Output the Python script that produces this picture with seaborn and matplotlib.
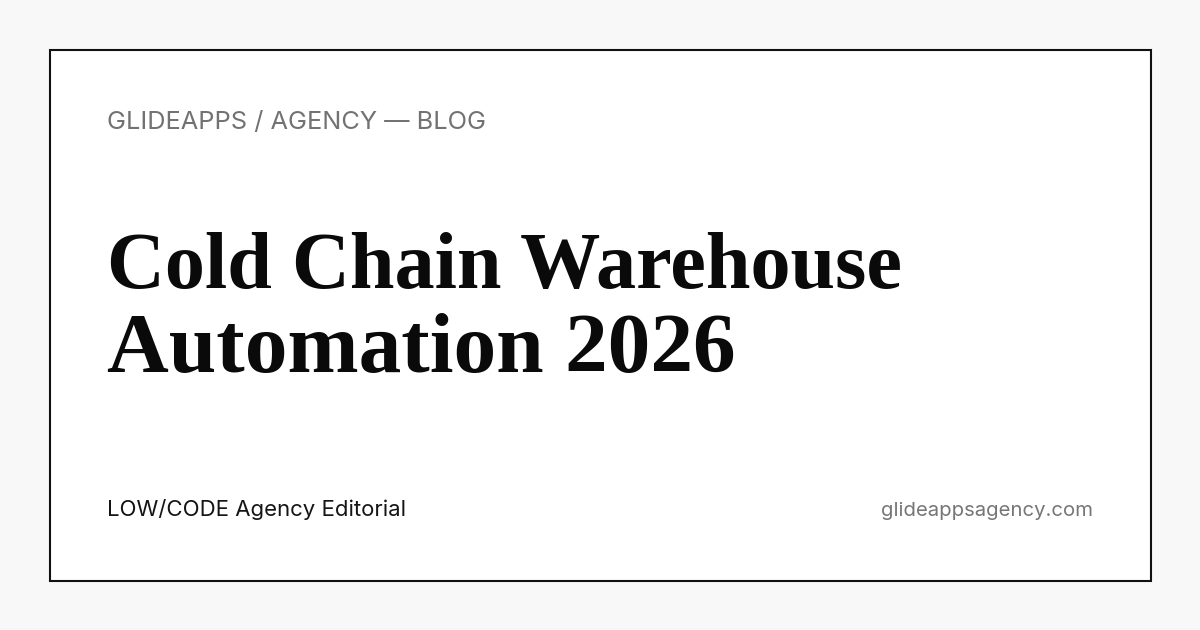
import matplotlib
matplotlib.use("Agg")
import matplotlib.pyplot as plt
import seaborn as sns
from matplotlib.patches import Rectangle

# ---- content ----
eyebrow = "GLIDEAPPS / AGENCY — BLOG"
title_lines = ["Cold Chain Warehouse", "Automation 2026"]
author = "LOW/CODE Agency Editorial"
site = "glideappsagency.com"

sns.set_theme(style="white")
plt.rcParams["font.family"] = ["Inter", "DejaVu Sans"]

W, H, DPI = 1200, 630, 100
fig = plt.figure(figsize=(W / DPI, H / DPI), dpi=DPI, facecolor="#f8f8f8")
ax = fig.add_axes([0, 0, 1, 1])
ax.set_xlim(0, W)
ax.set_ylim(H, 0)
ax.axis("off")
ax.set_facecolor("#f8f8f8")

ax.add_patch(Rectangle((49.5, 49.5), 1101, 531, facecolor="white",
                       edgecolor="#111111", linewidth=1.5))

renderer = fig.canvas.get_renderer()


def fit_text(x, y, s, target_w, size0, ha="left", **kw):
    t = ax.text(x, y, s, fontsize=size0, ha=ha, va="baseline", **kw)
    for _ in range(3):
        w = t.get_window_extent(renderer).width
        t.set_fontsize(t.get_fontsize() * target_w / w)
    return t


fit_text(107, 129, eyebrow, 379, 16, color="#727272", family=["Inter", "DejaVu Sans"])
fit_text(107, 288, title_lines[0], 795, 58, color="#0a0a0a",
         family=["Liberation Serif", "DejaVu Serif"], fontweight="bold")
fit_text(107, 372, title_lines[1], 629, 58, color="#0a0a0a",
         family=["Liberation Serif", "DejaVu Serif"], fontweight="bold")
fit_text(107, 516, author, 299, 15, color="#151515", family=["Inter", "DejaVu Sans"])
fit_text(1093, 516, site, 212, 15, ha="right", color="#767676", family=["Inter", "DejaVu Sans"])

fig.savefig("out.png", dpi=DPI, facecolor=fig.get_facecolor())
